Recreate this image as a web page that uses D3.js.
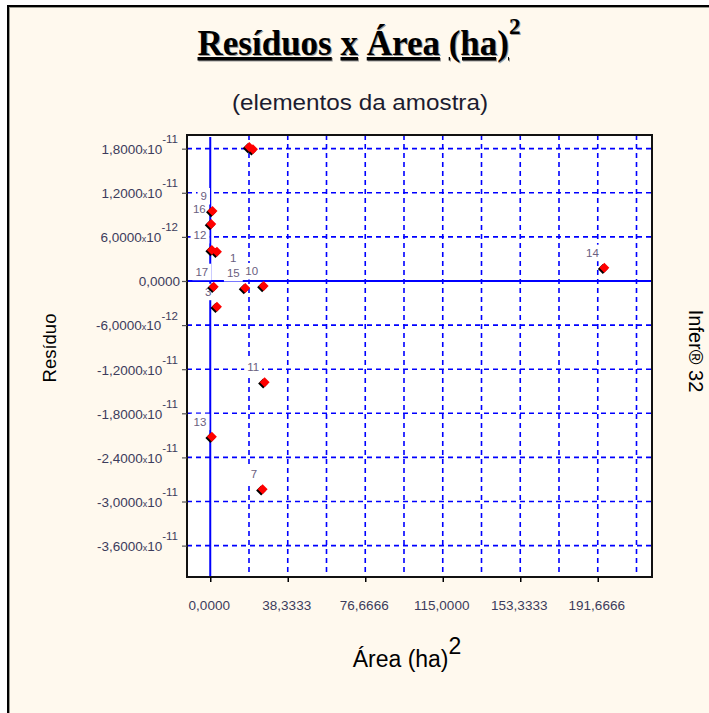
<!DOCTYPE html>
<html><head><meta charset="utf-8">
<script src="https://cdn.jsdelivr.net/npm/d3@7"></script>
<style>
html,body{margin:0;padding:0;background:#fff;}
svg{display:block;}
</style></head><body>
<svg id="c" width="709" height="713"></svg>
<script>
// ---- data ----
const pointLabels    = ["2","","9","16","12","1","17","3","15","10","11","13","7","14"];
const areaValues     = [19.3, 21.1, 1.1, 0.5, 0.8, 3.3, 1.7, 3.3, 17.3, 26.4, 26.9, 0.8, 25.9, 194.9];
const residualValues = [1.823e-11, 1.792e-11, 9.52e-12, 7.75e-12, 4.22e-12, 3.99e-12, -7.8e-13, -3.50e-12, -9.5e-13, -6.8e-13, -1.378e-11, -2.118e-11, -2.834e-11, 1.81e-12];
const labelPlacement = ["nw","nw","nw","nw","nw","e","nw","nw","nw","nw","nw","nw","nw","nw"];

const xTickValues = [0, 38.3333, 76.6666, 115, 153.3333, 191.6666];
const xTickLabels = ["0,0000","38,3333","76,6666","115,0000","153,3333","191,6666"];
const xGridValues = [19.1667, 38.3333, 57.5, 76.6667, 95.8333, 115, 134.1667, 153.3333, 172.5, 191.6667, 210.8333];

const yTickValues    = [1.8e-11, 1.2e-11, 6e-12, 0, -6e-12, -1.2e-11, -1.8e-11, -2.4e-11, -3e-11, -3.6e-11];
const yTickMantissas = ["1,8000","1,2000","6,0000","0,0000","-6,0000","-1,2000","-1,8000","-2,4000","-3,0000","-3,6000"];
const yTickExponents = ["-11","-11","-12","","-12","-11","-11","-11","-11","-11"];

const xDomain = [-11.5, 218.5];
const yDomain = [-4.027e-11, 1.986e-11];

// ---- layout ----
const svg = d3.select("#c");
const L = 187, R = 652, T = 135, B = 577;
const x = d3.scaleLinear(xDomain, [L, R]);
const y = d3.scaleLinear(yDomain, [B, T]);
const SANS = "'Liberation Sans', Arial, sans-serif";
const SERIF = "'Liberation Serif', 'Times New Roman', serif";

// panel
svg.append("rect").attr("x",0).attr("y",0).attr("width",709).attr("height",713).attr("fill","#fff");
svg.append("rect").attr("x",7).attr("y",5).attr("width",702).attr("height",708).attr("fill","#000");
svg.append("rect").attr("x",9).attr("y",7).attr("width",700).attr("height",706).attr("fill","#9a9a90");
svg.append("rect").attr("x",10).attr("y",8).attr("width",699).attr("height",705).attr("fill","#fff9ee");

// title
function title(g, dx, dy, fill) {
  const t = g.append("text").attr("x", 359 + dx).attr("y", 55 + dy)
    .attr("text-anchor","middle").attr("font-family", SERIF).attr("font-weight","bold")
    .attr("font-size", 35).attr("fill", fill);
  const parts = [["Resíduos",1],[" ",0],["x",1],[" ",0],["Área",1],[" ",0],["(ha)",1]];
  parts.forEach(p => {
    const s = t.append("tspan").text(p[0]);
    if (p[1]) s.style("text-decoration","underline");
  });
  t.append("tspan").attr("dy",-21).attr("font-size",23).text("2");
}
title(svg, 1, 1, "#9a9a9a");
title(svg, 0, 0, "#000");

svg.append("text").attr("x",360).attr("y",110).attr("text-anchor","middle")
  .attr("font-family",SANS).attr("font-size",22).attr("fill","#1c1c30")
  .attr("textLength",256).attr("lengthAdjust","spacingAndGlyphs")
  .text("(elementos da amostra)");

// plot background
svg.append("rect").attr("x",L).attr("y",T).attr("width",R-L).attr("height",B-T).attr("fill","#fff");

svg.append("clipPath").attr("id","pc").append("rect")
  .attr("x",L).attr("y",T).attr("width",R-L).attr("height",B-T);
const plot = svg.append("g").attr("clip-path","url(#pc)");

// grid
plot.append("g").selectAll("line").data(xGridValues).join("line")
  .attr("x1",d=>x(d)).attr("x2",d=>x(d)).attr("y1",T).attr("y2",B)
  .attr("stroke","#0000ff").attr("stroke-width",1.6).attr("stroke-dasharray","5,4");
plot.append("g").selectAll("line").data(yTickValues.filter(v=>v!==0)).join("line")
  .attr("x1",L).attr("x2",R).attr("y1",d=>y(d)).attr("y2",d=>y(d))
  .attr("stroke","#0000ff").attr("stroke-width",1.6).attr("stroke-dasharray","5,4");
// zero lines
plot.append("line").attr("x1",L).attr("x2",R).attr("y1",y(0)).attr("y2",y(0))
  .attr("stroke","#0000ff").attr("stroke-width",2);
plot.append("line").attr("x1",x(0)).attr("x2",x(0)).attr("y1",T+2).attr("y2",B)
  .attr("stroke","#0000ff").attr("stroke-width",2);

// point labels
const pts = pointLabels.map((l,i)=>({label:l, a:areaValues[i], r:residualValues[i], pos:labelPlacement[i]}));
const boxG = plot.append("g"), labG = plot.append("g");
pts.filter(p => p.label !== "").forEach(p => {
  const px = x(p.a), py = y(p.r);
  let tx, cy, anchor;
  if (p.pos === "e") { tx = px + 13; cy = py + 6; anchor = "start"; }
  else { tx = px - 5.5; cy = py - 15; anchor = "end"; }
  const t = labG.append("text").attr("x",tx).attr("y",cy+4).attr("text-anchor",anchor)
    .attr("font-family",SANS).attr("font-size",11.5).attr("fill","#6a6080").text(p.label);
  const bb = t.node().getBBox();
  boxG.append("rect").attr("x",bb.x-3).attr("y",cy-8).attr("width",bb.width+6).attr("height",16.5).attr("fill","#fff");
});

// markers
const diamond = d3.symbol().type(d3.symbolSquare).size(50);
plot.append("g").selectAll("path").data(pts).join("path")
  .attr("d",diamond).attr("transform",d=>`translate(${x(d.a)-1.5},${y(d.r)+1.3}) rotate(45)`)
  .attr("fill","#000");
plot.append("g").selectAll("path").data(pts).join("path")
  .attr("d",diamond).attr("transform",d=>`translate(${x(d.a)},${y(d.r)}) rotate(45)`)
  .attr("fill","#ff0000");

// border
svg.append("rect").attr("x",L).attr("y",T).attr("width",R-L).attr("height",B-T)
  .attr("fill","none").attr("stroke","#111").attr("stroke-width",2);

// x axis
const xa = svg.append("g").attr("transform",`translate(0,${B})`)
  .call(d3.axisBottom(x).tickValues(xTickValues).tickFormat((d,i)=>xTickLabels[i]).tickSize(5).tickSizeOuter(0));
xa.select(".domain").remove();
xa.selectAll(".tick line").attr("stroke","#000").attr("stroke-width",1.5);
xa.selectAll(".tick text").attr("y",33).attr("dy",null).attr("dx",-1.5)
  .attr("font-family",SANS).attr("font-size",13.5).attr("fill","#3c3c5c");

// y axis
const ya = svg.append("g").attr("transform",`translate(${L},0)`)
  .call(d3.axisLeft(y).tickValues(yTickValues).tickFormat(()=>"").tickSize(5).tickSizeOuter(0));
ya.select(".domain").remove();
ya.selectAll(".tick line").attr("stroke","#555").attr("stroke-width",1.2);
ya.selectAll(".tick text").each(function(d,i){
  const t = d3.select(this).text(null).attr("dy",null).attr("y",4.8)
    .attr("font-family",SANS).attr("font-size",13.5).attr("fill","#3c3c5c");
  const e = yTickExponents[i];
  if (!e) { t.attr("x",-7).text(yTickMantissas[i]); return; }
  t.attr("x",-9);
  t.append("tspan").text(yTickMantissas[i]);
  t.append("tspan").attr("font-size",9).text("x");
  t.append("tspan").text("10");
  t.append("tspan").attr("dy",-10.7).attr("font-size",11.5).text(e);
});

// axis titles
const xt = svg.append("text").attr("x",407).attr("y",667).attr("text-anchor","middle")
  .attr("font-family",SANS).attr("font-size",23).attr("fill","#000");
xt.append("tspan").text("Área (ha)");
xt.append("tspan").attr("dy",-13).text("2");

svg.append("text").attr("transform","translate(56,348) rotate(-90)").attr("text-anchor","middle")
  .attr("font-family",SANS).attr("font-size",18.5).attr("fill","#000").text("Resíduo");
svg.append("text").attr("transform","translate(689,351) rotate(90)").attr("text-anchor","middle")
  .attr("font-family",SANS).attr("font-size",20).attr("fill","#000").text("Infer® 32");
</script>
</body></html>
